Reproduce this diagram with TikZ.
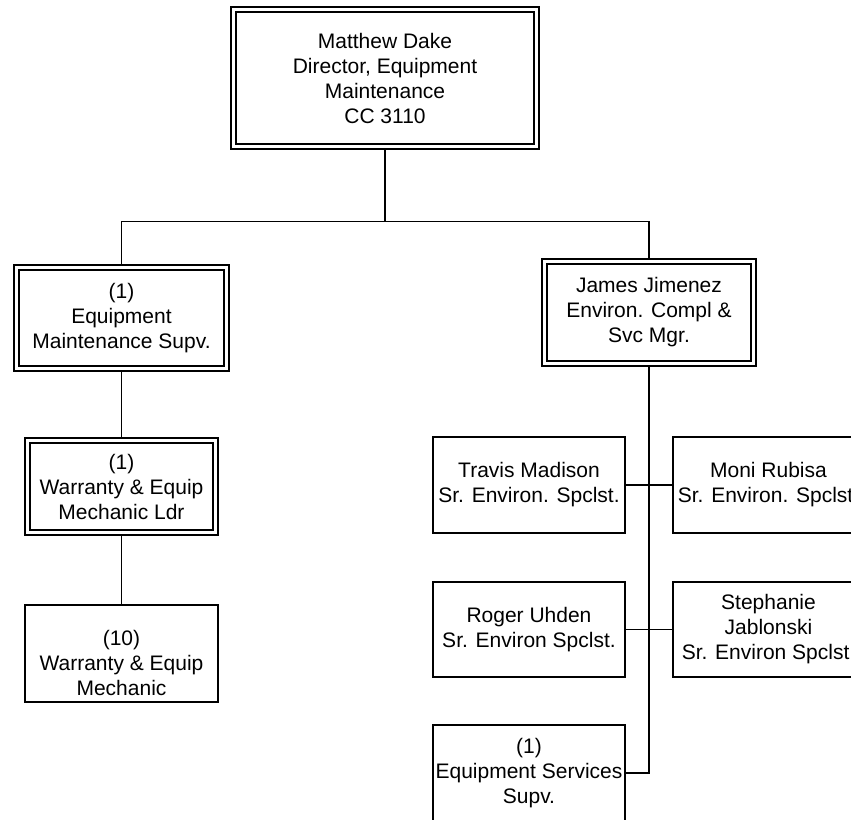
\documentclass[tikz,border=0pt]{standalone}
\usepackage{fontspec}
\setmainfont{Liberation Sans}
\usetikzlibrary{backgrounds}
\begin{document}
\begin{tikzpicture}[x=1pt,y=-1pt,
  every node/.style={font=\fontsize{21}{25}\selectfont, align=center, inner sep=0pt, text=black},
  sbox/.style={draw=black, line width=1.8pt, fill=white},
  dbox/.style={draw=black, line width=1.7pt, double=white, double distance=3.2pt, fill=white},
  conn/.style={draw=black, line width=1.9pt}]
\useasboundingbox (0,0) rectangle (851,819);
\clip (0,0) rectangle (851,819);
% double-bordered boxes
\node[dbox, minimum width=303pt, minimum height=137pt] (top) at (385,78)
  {Matthew Dake\\Director, Equipment\\Maintenance\\CC 3110};
\node[dbox, minimum width=210pt, minimum height=101pt] (ems) at (121.5,318)
  {(1)\\Equipment\\Maintenance Supv.};
\node[dbox, minimum width=188pt, minimum height=92pt] (wl) at (121.5,486.5)
  {(1)\\Warranty \& Equip\\Mechanic Ldr};
\node[dbox, minimum width=209pt, minimum height=102pt] (james) at (649,312.5)
  {James Jimenez\\Environ. Compl \&\\Svc Mgr.};
% single-bordered boxes
\node[sbox, minimum width=193pt, minimum height=97pt] (mech) at (121.5,653.5)
  {\rule{0pt}{10pt}\\(10)\\Warranty \& Equip\\Mechanic};
\node[sbox, minimum width=192pt, minimum height=96pt] (travis) at (529,485)
  {Travis Madison\\Sr. Environ. Spclst.};
\node[sbox, minimum width=191pt, minimum height=96pt] (moni) at (768.5,485)
  {Moni Rubisa\\Sr. Environ. Spclst.};
\node[sbox, minimum width=192pt, minimum height=95pt] (roger) at (529,629.5)
  {Roger Uhden\\Sr. Environ Spclst.};
\node[sbox, minimum width=191pt, minimum height=95pt] (steph) at (768.5,629.5)
  {Stephanie\\Jablonski\\Sr. Environ Spclst.};
\node[sbox, minimum width=192pt, minimum height=96pt] (eqs) at (529,773)
  {(1)\\Equipment Services\\Supv.};
\coordinate (hl) at (121.5,221.5);
% connectors
\begin{scope}[on background layer]
\draw[conn] (top.south) -- (top.south |- hl);
\draw[conn] (ems.north) -- (ems.north |- hl) -- (james.north |- hl) -- (james.north);
\draw[conn] (ems.south) -- (wl.north);
\draw[conn] (wl.south) -- (mech.north);
\draw[conn] (james.south) |- (eqs.east);
\draw[conn] (travis.east) -- (moni.west);
\draw[conn] (roger.east) -- (steph.west);
\end{scope}
\end{tikzpicture}
\end{document}
